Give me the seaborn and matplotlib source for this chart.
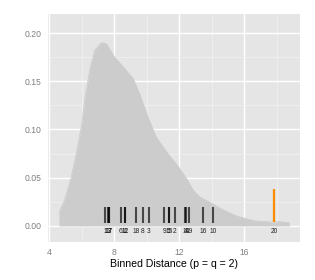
import matplotlib
matplotlib.use("Agg")
import matplotlib.pyplot as plt
import seaborn as sns
import numpy as np
import pandas as pd
from matplotlib.ticker import FixedLocator

# density curve
dens_x = [4.585, 4.93, 5.34, 5.65, 5.96, 6.20, 6.47, 6.78, 7.19, 7.50, 8.01, 8.63,
          9.14, 9.55, 10.06, 10.57, 11.29, 11.91, 12.44, 12.85, 13.26, 13.98,
          14.70, 15.52, 16.54, 17.57, 18.18, 18.76]
dens_y = [0.0138, 0.027, 0.051, 0.075, 0.103, 0.134, 0.161, 0.182, 0.190, 0.189,
          0.175, 0.163, 0.153, 0.137, 0.113, 0.092, 0.075, 0.062, 0.049, 0.037,
          0.030, 0.0235, 0.0166, 0.0104, 0.0055, 0.0041, 0.0045, 0.0034]

# null distances and labels
null_labels = ["1", "13", "17", "7", "6", "11", "12", "18", "8", "3", "9", "15", "5",
               "2", "4", "14", "19", "16", "10"]
null_x = [7.42, 7.60, 7.65, 7.68, 8.40, 8.62, 8.65, 9.32, 9.75, 10.12, 11.08, 11.35,
          11.36, 11.72, 12.37, 12.40, 12.58, 13.45, 14.06]
real_label = ["20"]
real_x = [17.83]

x_ticks = [4, 8, 12, 16]
y_ticks = [0.00, 0.05, 0.10, 0.15, 0.20]
y_tick_labels = ["0.00", "0.05", "0.10", "0.15", "0.20"]
x_title = "Binned Distance (p = q = 2)"

sns.set_style("darkgrid", {"axes.facecolor": "#E5E5E5", "grid.color": "white"})
plt.rcParams["font.family"] = ["Liberation Sans", "DejaVu Sans"]

fig = plt.figure(figsize=(3.15, 2.8), dpi=100)
ax = fig.add_axes([48/315, 1-242/280, 252/315, 228/280])

df = pd.DataFrame({"x": dens_x, "y": dens_y})
ax.fill_between(df["x"], 0, df["y"], color="#CCCCCC", linewidth=0, zorder=2)
sns.lineplot(data=df, x="x", y="y", ax=ax, color="#CCCCCC", linewidth=0.6, zorder=2)

ax.vlines(null_x, 0.0035, 0.0193, color="black", alpha=0.65, linewidth=1.5, zorder=3)
ax.vlines(real_x, 0.004, 0.038, color="#FF8C00", linewidth=1.6, zorder=3)

for lx, lab in zip(null_x + real_x, null_labels + real_label):
    ax.text(lx, -0.0062, lab, ha="center", va="center", fontsize=4.8,
            color="#222222", zorder=4)

ax.set_xlim(3.91, 19.42)
ax.set_ylim(-0.0166, 0.2197)
ax.set_xticks(x_ticks)
ax.set_xticklabels([str(t) for t in x_ticks])
ax.set_yticks(y_ticks)
ax.set_yticklabels(y_tick_labels)
ax.xaxis.set_minor_locator(FixedLocator([6, 10, 14, 18]))
ax.yaxis.set_minor_locator(FixedLocator([0.025, 0.075, 0.125, 0.175]))
ax.grid(True, which="major", color="white", linewidth=1.0, zorder=0)
ax.grid(True, which="minor", color="#F2F2F2", linewidth=0.5, zorder=0)
ax.set_axisbelow(True)
for s in ax.spines.values():
    s.set_visible(False)
ax.tick_params(axis="both", which="major", length=3, width=0.6, color="#7F7F7F",
               labelsize=6.2, labelcolor="#7F7F7F", pad=1.5)
ax.tick_params(axis="both", which="minor", length=0)
ax.set_xlabel(x_title, fontsize=7.6, color="black", labelpad=1)
ax.set_ylabel("")

fig.savefig("out.png", dpi=100, facecolor="white")
